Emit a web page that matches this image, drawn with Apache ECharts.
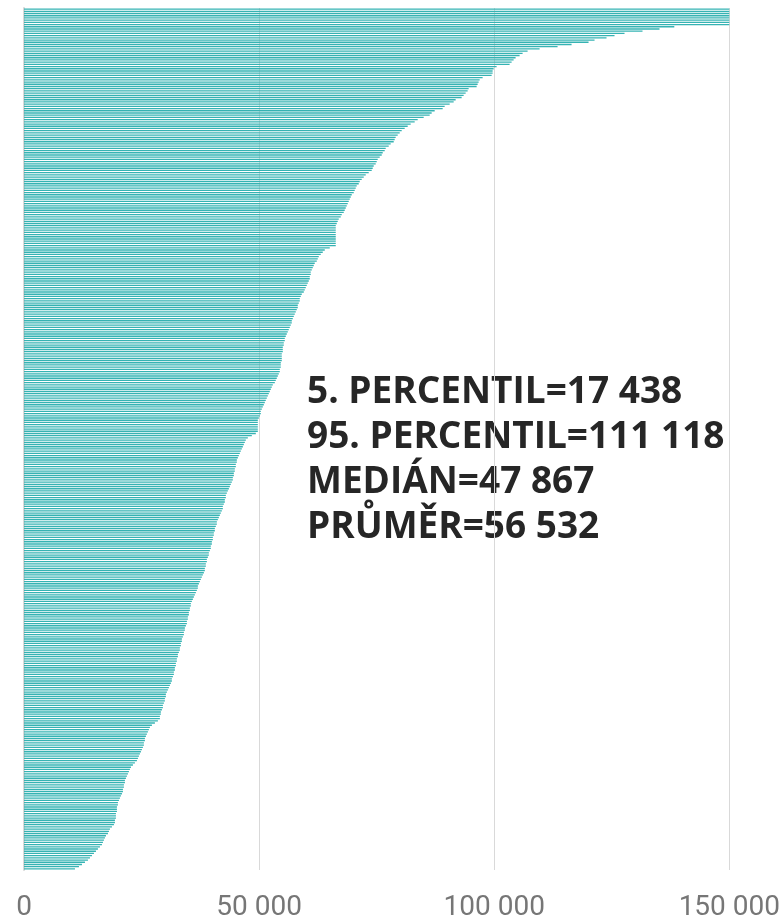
<!DOCTYPE html>
<html>
<head>
<meta charset="utf-8">
<script src="https://cdn.jsdelivr.net/npm/echarts@6/dist/echarts.min.js"></script>
<style>
    html, body {margin: 0; padding: 0; background: #fff;}
    #chart {width: 783px; height: 923px;}
</style>
</head>
<body>
<div id="chart"></div>
<script>
// hodnoty serazene sestupne, nad 150 000 oriznuto
var values = [
    150000, 150000, 150000, 150000, 150000, 150000, 150000, 150000, 138300, 135150,
    131538, 127713, 125588, 123888, 121338, 120063, 116450, 113475, 109650, 107100,
    106038, 105400, 104550, 104125, 103700, 103275, 100513, 99875, 99663, 99663,
    99450, 97538, 96900, 96688, 96475, 96263, 94563, 94350, 93925, 93500,
    93075, 91800, 91375, 90525, 89463, 89038, 87338, 86700, 86275, 85000,
    83725, 83088, 82238, 81600, 80963, 80325, 79900, 79475, 79050, 78838,
    78625, 77988, 77563, 76925, 76713, 76288, 76075, 75650, 75225, 75013,
    74800, 74375, 74163, 73950, 73313, 72675, 72250, 71825, 71400, 71188,
    70763, 70550, 70338, 70125, 69700, 69488, 69275, 69063, 68850, 68638,
    68425, 68213, 68000, 67575, 67363, 66938, 66725, 66513, 66300, 66300,
    66300, 66300, 66300, 66300, 66300, 66300, 66300, 66300, 65025, 63963,
    63538, 63113, 62688, 62475, 62263, 61838, 61625, 61413, 61200, 60988,
    60988, 60775, 60775, 60563, 60350, 60138, 59925, 59713, 59500, 59075,
    58863, 58650, 58650, 58438, 58225, 58225, 58013, 57800, 57588, 57375,
    57163, 56950, 56950, 56738, 56525, 56313, 56100, 55888, 55675, 55463,
    55463, 55250, 55250, 55038, 55038, 55038, 54825, 54825, 54825, 54825,
    54613, 54613, 54613, 54400, 54400, 54188, 53975, 53763, 53550, 53338,
    52913, 52700, 52488, 52275, 52063, 51850, 51638, 51425, 51213, 51000,
    50788, 50575, 50363, 50363, 50150, 49938, 49725, 49725, 49725, 49725,
    49725, 49725, 49300, 48450, 47600, 47175, 46963, 46750, 46538, 46325,
    46113, 45900, 45688, 45475, 45263, 45263, 45050, 45050, 44838, 44838,
    44625, 44625, 44413, 44413, 44200, 43988, 43775, 43563, 43350, 43138,
    42925, 42925, 42713, 42713, 42500, 42288, 42288, 42075, 41863, 41650,
    41438, 41225, 41013, 41013, 40800, 40588, 40588, 40375, 40375, 40163,
    40163, 39950, 39950, 39738, 39738, 39525, 39313, 39313, 39100, 38888,
    38888, 38675, 38675, 38463, 38463, 38250, 38038, 37825, 37613, 37400,
    37188, 36975, 36975, 36763, 36550, 36338, 36125, 35913, 35700, 35488,
    35488, 35275, 35275, 35063, 35063, 34850, 34850, 34638, 34638, 34425,
    34213, 34213, 34000, 34000, 33788, 33575, 33575, 33363, 33363, 33150,
    33150, 32938, 32725, 32725, 32513, 32513, 32300, 32300, 32088, 32088,
    31875, 31875, 31663, 31450, 31450, 31238, 31025, 30813, 30600, 30388,
    30175, 30175, 29963, 29963, 29750, 29538, 29538, 29325, 29113, 29113,
    28900, 28900, 28475, 27838, 27200, 26775, 26563, 26350, 26138, 25925,
    25713, 25713, 25500, 25500, 25288, 25075, 24863, 24650, 24438, 24225,
    24013, 23588, 23163, 22738, 22525, 22313, 22100, 21888, 21675, 21463,
    21463, 21250, 21250, 21038, 21038, 20825, 20613, 20400, 20188, 19975,
    19975, 19763, 19763, 19763, 19550, 19550, 19550, 19338, 19338, 19125,
    18700, 18275, 18063, 17850, 17425, 17213, 17000, 16788, 16575, 16150,
    15725, 15300, 14875, 14450, 14025, 13600, 12963, 12325, 11688, 10838
];

var categories = [];
for (var i = 0; i < values.length; i++) {
    categories.push(String(i + 1));
}

var statLines = [
    '5. PERCENTIL=17 438',
    '95. PERCENTIL=111 118',
    'MEDIÁN=47 867',
    'PRŮMĚR=56 532'
];

var xTicks = [0, 50000, 100000, 150000];

function fmt(v) {
    return String(v).replace(/\B(?=(\d{3})+(?!\d))/g, ' ');
}

var chart = echarts.init(document.getElementById('chart'), null, {renderer: 'canvas'});

option = {
    backgroundColor: '#ffffff',
    animation: false,
    grid: {
        left: 24,
        right: 53,
        top: 8,
        bottom: 53,
        containLabel: false
    },
    xAxis: {
        type: 'value',
        min: xTicks[0],
        max: xTicks[xTicks.length - 1],
        interval: xTicks[1] - xTicks[0],
        axisLine: {show: false},
        axisTick: {show: false},
        splitLine: {
            show: true,
            lineStyle: {color: '#d9d9d9', width: 1}
        },
        axisLabel: {
            color: '#767676',
            fontSize: 28,
            fontFamily: 'Roboto',
            margin: 24,
            formatter: function (v) { return fmt(v); }
        }
    },
    yAxis: {
        type: 'category',
        inverse: true,
        data: categories,
        axisLine: {
            show: true,
            lineStyle: {color: '#d9d9d9', width: 2}
        },
        axisTick: {show: false},
        axisLabel: {show: false},
        splitLine: {show: false}
    },
    series: [{
        type: 'bar',
        data: values,
        barCategoryGap: '40%',
        itemStyle: {color: '#35b3b3'}
    }],
    graphic: statLines.map(function (t, k) {
        return {
            type: 'text',
            left: 307,
            top: 374 + k * 45,
            style: {
                text: t,
                fill: '#262626',
                fontSize: 37,
                fontWeight: 'bold',
                fontFamily: 'Open Sans'
            }
        };
    })
};

chart.setOption(option);
</script>
</body>
</html>
